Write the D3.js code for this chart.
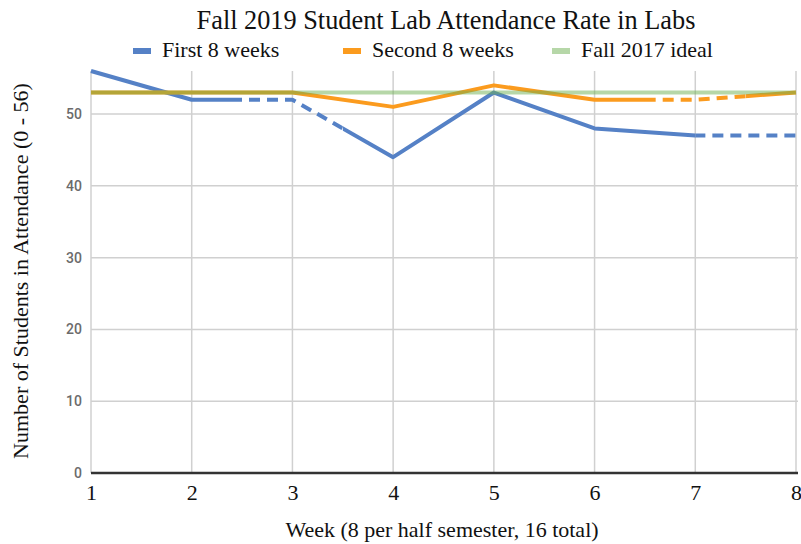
<!DOCTYPE html>
<html>
<head>
<meta charset="utf-8">
<script src="https://cdn.jsdelivr.net/npm/d3@7"></script>
<style>
  html, body { margin: 0; padding: 0; background: #fff; }
  svg { display: block; }
</style>
</head>
<body>
<svg id="chart" width="801" height="544"></svg>
<script>
// Weekly attendance, weeks 1-8
const weeks = [1, 2, 3, 4, 5, 6, 7, 8];
const firstEight = [56, 52, 52, 44, 53, 48, 47, 47];
const secondEight = [53, 53, 53, 51, 54, 52, 52, 53];
const ideal2017 = [53, 53, 53, 53, 53, 53, 53, 53];
const yTicks = [0, 10, 20, 30, 40, 50];

// Week ranges drawn dashed for each series
const firstDashed = [[2.5, 3.5], [7, 8]];
const secondDashed = [[6.5, 7.5]];

const seriesNames = ["First 8 weeks", "Second 8 weeks", "Fall 2017 ideal"];
const seriesColors = ["#5581c6", "#fb9b1e", "#6daf51"];

const serif = "'Liberation Serif', 'Times New Roman', serif";
const svg = d3.select("#chart");
const W = 801, H = 544;
const x = d3.scaleLinear().domain([1, 8]).range([91, 796]);
const y = d3.scaleLinear().domain([0, 56]).range([473, 71]);

// Title
svg.append("text")
  .attr("x", 446).attr("y", 29)
  .attr("text-anchor", "middle")
  .attr("font-family", serif)
  .attr("font-size", 26.3)
  .attr("fill", "#111")
  .text("Fall 2019 Student Lab Attendance Rate in Labs");

// Legend
const legendX = [133, 343, 552];
seriesNames.forEach((name, i) => {
  const g = svg.append("g").attr("transform", `translate(${legendX[i]},51)`);
  g.append("rect").attr("x", 0).attr("y", -3).attr("width", 18).attr("height", 6)
    .attr("fill", seriesColors[i]).attr("opacity", i === 2 ? 0.5 : 1);
  g.append("text").attr("x", 29).attr("y", 6)
    .attr("font-family", serif)
    .attr("font-size", 22).attr("fill", "#111")
    .text(name);
});

// Gridlines
const grid = svg.append("g");
grid.selectAll("line.h").data(yTicks.filter(d => d > 0)).enter().append("line")
  .attr("x1", x(1)).attr("x2", x(8) + 2)
  .attr("y1", d => y(d)).attr("y2", d => y(d))
  .attr("stroke", "#d0d0d0").attr("stroke-width", 1.5);
grid.selectAll("line.v").data(weeks).enter().append("line")
  .attr("x1", d => x(d)).attr("x2", d => x(d))
  .attr("y1", y(56)).attr("y2", y(0))
  .attr("stroke", "#d0d0d0").attr("stroke-width", 1.5);

// Y axis labels
const yAxis = d3.axisLeft(y).tickValues(yTicks).tickSize(0).tickPadding(9);
svg.append("g").attr("transform", `translate(${x(1)},0)`).call(yAxis)
  .call(g => g.select(".domain").remove())
  .call(g => g.selectAll("text")
    .attr("font-family", "Roboto, Arial, sans-serif")
    .attr("font-size", 14).attr("font-weight", 500).attr("fill", "#6b6b6b"));

// X axis labels
const xAxis = d3.axisBottom(x).tickValues(weeks).tickSize(0).tickPadding(11).tickFormat(d3.format("d"));
svg.append("g").attr("transform", `translate(0,${y(0)})`).call(xAxis)
  .call(g => g.select(".domain").remove())
  .call(g => g.selectAll("text")
    .attr("font-family", serif)
    .attr("font-size", 22).attr("fill", "#111"));

// Baseline
svg.append("line")
  .attr("x1", x(1)).attr("x2", x(8) + 2)
  .attr("y1", y(0)).attr("y2", y(0))
  .attr("stroke", "#333").attr("stroke-width", 2.5);

// Axis titles
svg.append("text")
  .attr("transform", "translate(28,271) rotate(-90)")
  .attr("text-anchor", "middle")
  .attr("font-family", serif)
  .attr("font-size", 22).attr("fill", "#111")
  .text("Number of Students in Attendance (0 - 56)");
svg.append("text")
  .attr("x", 442).attr("y", 537)
  .attr("text-anchor", "middle")
  .attr("font-family", serif)
  .attr("font-size", 22).attr("fill", "#111")
  .text("Week (8 per half semester, 16 total)");

// Lines: each series is drawn in solid and dashed pieces clipped by week ranges
const defs = svg.append("defs");
const line = d3.line().x((d, i) => x(weeks[i])).y(d => y(d));
let clipId = 0;

function complement(ranges) {
  const out = [];
  let start = 1;
  ranges.forEach(([a, b]) => { if (a > start) out.push([start, a]); start = b; });
  if (start < 8) out.push([start, 8]);
  return out;
}

function drawSeries(values, color, dashedRanges, opacity) {
  const pieces = [
    ...complement(dashedRanges).map(r => ({ r, dash: null })),
    ...dashedRanges.map(r => ({ r, dash: "11,7" }))
  ];
  pieces.forEach(p => {
    const id = "clip" + (clipId++);
    const x0 = p.r[0] === 1 ? 0 : x(p.r[0]);
    const x1 = p.r[1] === 8 ? W : x(p.r[1]);
    defs.append("clipPath").attr("id", id).append("rect")
      .attr("x", x0).attr("y", 0).attr("width", x1 - x0).attr("height", H);
    svg.append("path").datum(values)
      .attr("clip-path", `url(#${id})`)
      .attr("d", line)
      .attr("fill", "none")
      .attr("stroke", color)
      .attr("stroke-width", 4)
      .attr("stroke-linejoin", "round")
      .attr("stroke-dasharray", p.dash)
      .attr("opacity", opacity);
  });
}

drawSeries(firstEight, seriesColors[0], firstDashed, 1);
drawSeries(secondEight, seriesColors[1], secondDashed, 1);
drawSeries(ideal2017, seriesColors[2], [], 0.5);
</script>
</body>
</html>
